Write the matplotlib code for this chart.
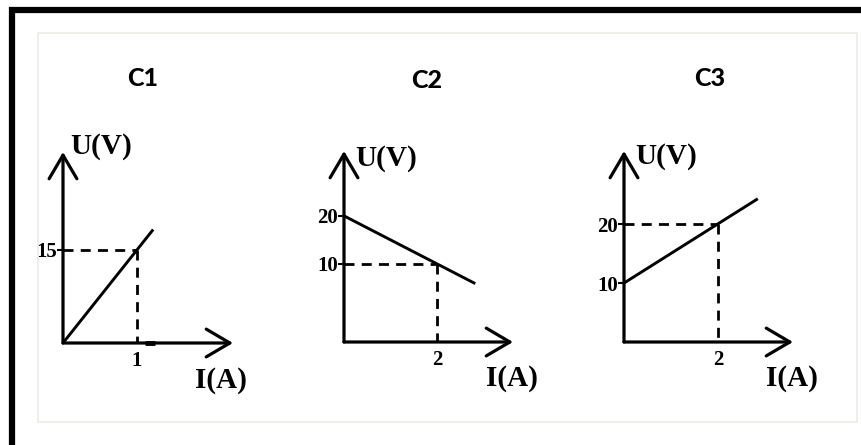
import matplotlib
matplotlib.use("Agg")
import matplotlib.pyplot as plt
from matplotlib.lines import Line2D
from matplotlib.patches import Rectangle

# ---- data ----
titles = ["C1", "C2", "C3"]

c1_I = [0, 1.22]
c1_U = [0, 18.3]
c1_point = (1, 15)
c1_yticks = [15]

c2_I = [0, 2.82]
c2_U = [20, 5.9]
c2_point = (2, 10)
c2_yticks = [10, 20]

c3_I = [0, 2.85]
c3_U = [10, 24.3]
c3_point = (2, 20)
c3_yticks = [10, 20]

W, H = 862, 445
fig = plt.figure(figsize=(W / 100, H / 100), dpi=100)
fig.patch.set_facecolor("white")

SERIF = "Liberation Serif"


def fx(px):
    return px / W


def fy(py):
    return 1 - py / H


# outer black frame (only top and left visible) and inner light box
fig.add_artist(Line2D([fx(12), fx(12), fx(870)], [fy(460), fy(10), fy(10)],
                      color="black", lw=4.5, solid_joinstyle="miter"))
fig.add_artist(Rectangle((fx(38), fy(422)), fx(857) - fx(38), fy(33) - fy(422),
                         fill=False, edgecolor="#ecece6", lw=1.2))


def panel(box, xlim, ylim, I, U, point, yticks, xtick):
    x0, y0, x1, y1 = box
    ax = fig.add_axes([fx(x0), fy(y0), fx(x1) - fx(x0), fy(y1) - fy(y0)])
    ax.set_xlim(*xlim)
    ax.set_ylim(*ylim)
    ax.patch.set_alpha(0)
    for s in ax.spines.values():
        s.set_visible(False)

    # axes arrows
    arr = dict(arrowstyle="->,head_length=0.85,head_width=0.5", lw=2.3,
               color="black", shrinkA=0, shrinkB=0, mutation_scale=20)
    ax.annotate("", xy=(0, 1), xytext=(0, 0), xycoords="axes fraction",
                arrowprops=arr)
    ax.annotate("", xy=(1, 0), xytext=(0, 0), xycoords="axes fraction",
                arrowprops=arr)

    # characteristic line
    ax.plot(I, U, color="black", lw=2.1, solid_capstyle="butt", clip_on=False)

    # dashed guides
    px, py = point
    ax.plot([0, px], [py, py], color="black", lw=2.0, dashes=(3.6, 2.6),
            clip_on=False)
    ax.plot([px, px], [py, ylim[0]], color="black", lw=2.0, dashes=(3.6, 2.6),
            clip_on=False)

    ax.set_yticks(yticks)
    ax.set_yticklabels([str(v) for v in yticks], fontfamily=SERIF,
                       fontweight="bold", fontsize=15)
    ax.set_xticks([xtick])
    ax.set_xticklabels([str(xtick)], fontfamily=SERIF, fontweight="bold",
                       fontsize=15)
    ax.tick_params(axis="y", length=4, width=1.5, direction="out", pad=0.5)
    ax.tick_params(axis="x", length=0, pad=6)
    return ax


ax1 = panel((63, 343, 233, 152), (0, 2.3), (0, 30.8), c1_I, c1_U, c1_point,
            c1_yticks, 1)
# small heavy mark on the I axis just past 1
ax1.plot([1.11, 1.24], [0, 0], color="black", lw=3.5, solid_capstyle="butt",
         clip_on=False)
panel((344, 342, 513, 151), (0, 3.63), (-6.25, 33.5), c2_I, c2_U, c2_point,
      c2_yticks, 2)
panel((624, 342, 793, 151), (0, 3.6), (0, 32.4), c3_I, c3_U, c3_point,
      c3_yticks, 2)

# titles
for t, (cx, cy) in zip(titles, [(143, 79), (427, 80), (710, 78)]):
    fig.text(fx(cx), fy(cy), t, ha="center", va="center", fontfamily="Lato",
             fontweight="black", fontsize=18)

# axis names
for (lx, ly) in [(70, 146), (355, 159), (635, 157)]:
    fig.text(fx(lx), fy(ly), "U(V)", ha="left", va="center", fontfamily=SERIF,
             fontweight="bold", fontsize=21)
for (lx, ly) in [(195, 381), (486, 378), (766, 378)]:
    fig.text(fx(lx), fy(ly), "I(A)", ha="left", va="center", fontfamily=SERIF,
             fontweight="bold", fontsize=21)

fig.savefig("out.png", dpi=100, facecolor="white")
